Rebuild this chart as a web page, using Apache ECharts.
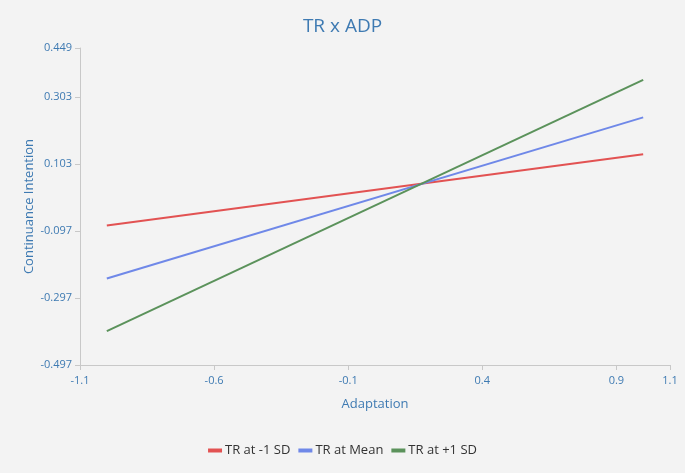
<!DOCTYPE html>
<html><head><meta charset="utf-8">
<script src="https://cdn.jsdelivr.net/npm/echarts@6/dist/echarts.min.js"></script>
<style>html,body{margin:0;padding:0;background:#f3f3f3}#c{width:685px;height:473px}</style>
</head><body><div id="c"></div>
<script>
const xValues = [-1.0, 1.0];
const seriesNames = ['TR at -1 SD', 'TR at Mean', 'TR at +1 SD'];
const redValues = [-0.081, 0.132];
const blueValues = [-0.239, 0.242];
const greenValues = [-0.396, 0.354];
const colors = ['#e25252', '#6f88e8', '#5b925b'];
const xTicks = [-1.1, 0.5, 1.1]; // min, interval, max
const yTicks = [-0.497, 0.2, 0.449];

const txt = '#3e7ab2';
const font = '"Open Sans", "Noto Sans", sans-serif';
const allValues = [redValues, blueValues, greenValues];
const chart = echarts.init(document.getElementById('c'));
chart.setOption({
  backgroundColor: '#f3f3f3',
  textStyle: { fontFamily: font },
  title: { text: 'TR x ADP', left: 'center', top: 12,
    textStyle: { color: txt, fontSize: 19, fontWeight: 'normal', fontFamily: font } },
  grid: { left: 80, right: 15, top: 48, bottom: 108 },
  legend: { bottom: 11, left: 'center', itemWidth: 14, itemHeight: 4, itemGap: 8,
    icon: 'rect', textStyle: { color: '#333', fontSize: 13, fontFamily: font, padding: [0, 0, 0, -2] },
    data: seriesNames },
  xAxis: { type: 'value', min: xTicks[0], max: xTicks[2], interval: xTicks[1],
    name: 'Adaptation', nameLocation: 'middle', nameGap: 33, nameMoveOverlap: false,
    nameTextStyle: { color: txt, fontSize: 13 },
    axisLine: { onZero: false, lineStyle: { color: '#c8c8c8' } },
    axisTick: { show: true, length: 5, lineStyle: { color: '#c8c8c8' } },
    splitLine: { show: false },
    axisLabel: { color: txt, fontSize: 11, margin: 10, formatter: v => (+v).toFixed(1) } },
  yAxis: { type: 'value', min: yTicks[0], max: yTicks[2], interval: yTicks[1],
    name: 'Continuance Intention', nameLocation: 'middle', nameGap: 44, nameMoveOverlap: false,
    nameTextStyle: { color: txt, fontSize: 13 },
    axisLine: { show: true, onZero: false, lineStyle: { color: '#c8c8c8' } },
    axisTick: { show: true, length: 5, lineStyle: { color: '#c8c8c8' } },
    splitLine: { show: false },
    axisLabel: { color: txt, fontSize: 11, margin: 8, formatter: v => (+v).toFixed(3) } },
  series: seriesNames.map((n, i) => ({
    name: n, type: 'line', symbol: 'none', color: colors[i],
    lineStyle: { width: 2, color: colors[i] },
    data: xValues.map((x, j) => [x, allValues[i][j]])
  }))
});
</script></body></html>
